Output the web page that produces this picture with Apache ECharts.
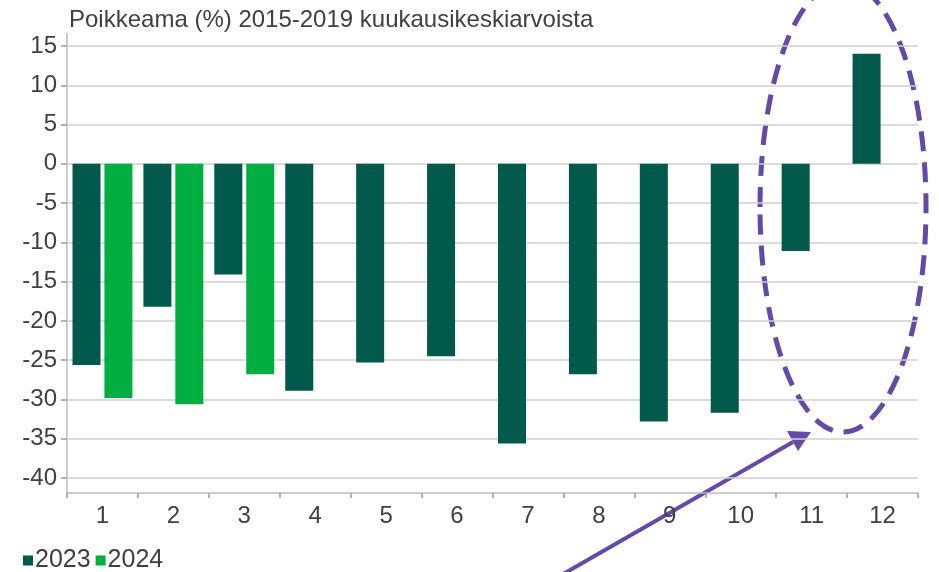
<!DOCTYPE html>
<html>
<head>
<meta charset="utf-8">
<script src="https://cdn.jsdelivr.net/npm/echarts@6/dist/echarts.min.js"></script>
<style>
  html, body { margin: 0; padding: 0; background: #fff; }
  #main { width: 939px; height: 572px; }
</style>
</head>
<body>
<div id="main"></div>
<script>
// kuukaudet
var months = ['1', '2', '3', '4', '5', '6', '7', '8', '9', '10', '11', '12'];
// poikkeama % 2015-2019 keskiarvoista
var data2023 = [-25.6, -18.2, -14.1, -28.9, -25.3, -24.5, -35.6, -26.8, -32.8, -31.7, -11.1, 14.0];
var data2024 = [-29.8, -30.6, -26.8, '-', '-', '-', '-', '-', '-', '-', '-', '-'];
var yTicks = { min: -40, max: 15, step: 5 };

var txt = '#404040';
var font = 'Liberation Sans, Arial, sans-serif';
var purple = '#6549a7';

var chart = echarts.init(document.getElementById('main'), null, { renderer: 'canvas' });

var option = {
  animation: false,
  title: {
    text: 'Poikkeama (%) 2015-2019 kuukausikeskiarvoista',
    left: 64,
    top: 3,
    textStyle: { color: txt, fontSize: 24, fontWeight: 'normal', fontFamily: font }
  },
  legend: {
    data: ['2023', '2024'],
    left: 18,
    top: 543,
    icon: 'rect',
    itemWidth: 10,
    itemHeight: 10,
    itemGap: 5,
    textStyle: { color: txt, fontSize: 25, fontFamily: font, padding: [0, 0, 0, -3] }
  },
  grid: { left: 67, right: 21, top: 46, bottom: 94 },
  xAxis: {
    type: 'category',
    data: months,
    offset: 15,
    axisLine: { show: true, onZero: false, lineStyle: { color: '#bdbdbd', width: 1.5 } },
    axisTick: { show: true, length: 5, lineStyle: { color: '#9a9a9a', width: 1.5 } },
    axisLabel: { color: txt, fontSize: 24, fontFamily: font, margin: 11 }
  },
  yAxis: {
    type: 'value',
    min: yTicks.min,
    max: yTicks.max,
    interval: yTicks.step,
    axisLine: { show: false },
    axisTick: { show: true, length: 6, lineStyle: { color: '#9a9a9a', width: 1.5 } },
    axisLabel: { color: txt, fontSize: 24, fontFamily: font, margin: 10 },
    splitLine: { show: true, lineStyle: { color: '#d0d0d0', width: 1.5 } }
  },
  series: [
    {
      name: '2023',
      type: 'bar',
      data: data2023,
      barWidth: 28,
      barGap: '14%',
      itemStyle: { color: '#00594b' }
    },
    {
      name: '2024',
      type: 'bar',
      data: data2024,
      barWidth: 28,
      itemStyle: { color: '#00ae42' }
    }
  ],
  graphic: [
    // pystyakselin viiva
    {
      type: 'line',
      shape: { x1: 67, y1: 33, x2: 67, y2: 493 },
      style: { stroke: '#bdbdbd', lineWidth: 1.5 }
    },
    // katkoviivaellipsi
    {
      type: 'ellipse',
      shape: { cx: 843, cy: 207, rx: 83, ry: 225 },
      style: { fill: null, stroke: purple, lineWidth: 5, lineDash: [20, 11] }
    },
    // nuoli
    {
      type: 'line',
      shape: { x1: 558, y1: 577, x2: 793, y2: 442 },
      style: { stroke: purple, lineWidth: 4 }
    },
    {
      type: 'polygon',
      shape: { points: [[811, 432], [798, 451], [787, 431]] },
      style: { fill: purple }
    }
  ]
};

chart.setOption(option);
</script>
</body>
</html>
